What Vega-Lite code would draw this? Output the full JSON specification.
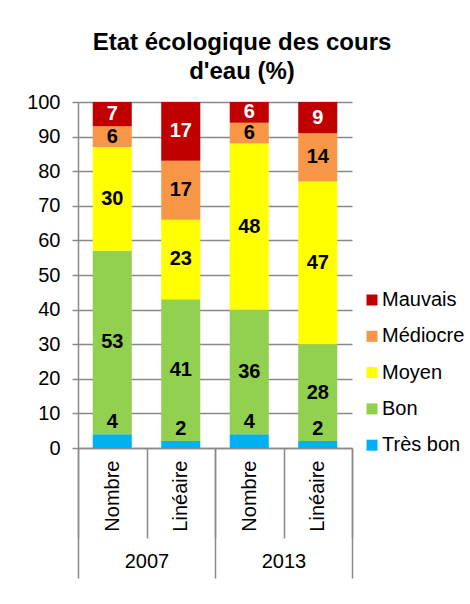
{
  "$schema": "https://vega.github.io/schema/vega-lite/v6.json",
  "width": 274,
  "height": 346,
  "autosize": {"type": "none"},
  "padding": {"left": 78, "top": 102, "right": 118, "bottom": 156},
  "background": "white",
  "config": {"view": {"stroke": null}, "font": "Liberation Sans"},
  "title": {
    "text": ["Etat écologique des cours", "d'eau (%)"],
    "fontSize": 24,
    "fontWeight": "bold",
    "font": "Liberation Sans",
    "color": "black",
    "anchor": "middle",
    "dx": 27,
    "lineHeight": 29,
    "offset": 8
  },
  "data": {
    "values": [
      {"key": "2007 Nombre", "year": "2007", "status": "Très bon", "ord": 1, "value": 4},
      {"key": "2007 Nombre", "year": "2007", "status": "Bon", "ord": 2, "value": 53},
      {"key": "2007 Nombre", "year": "2007", "status": "Moyen", "ord": 3, "value": 30},
      {"key": "2007 Nombre", "year": "2007", "status": "Médiocre", "ord": 4, "value": 6},
      {"key": "2007 Nombre", "year": "2007", "status": "Mauvais", "ord": 5, "value": 7},
      {"key": "2007 Linéaire", "year": "2007", "status": "Très bon", "ord": 1, "value": 2},
      {"key": "2007 Linéaire", "year": "2007", "status": "Bon", "ord": 2, "value": 41},
      {"key": "2007 Linéaire", "year": "2007", "status": "Moyen", "ord": 3, "value": 23},
      {"key": "2007 Linéaire", "year": "2007", "status": "Médiocre", "ord": 4, "value": 17},
      {"key": "2007 Linéaire", "year": "2007", "status": "Mauvais", "ord": 5, "value": 17},
      {"key": "2013 Nombre", "year": "2013", "status": "Très bon", "ord": 1, "value": 4},
      {"key": "2013 Nombre", "year": "2013", "status": "Bon", "ord": 2, "value": 36},
      {"key": "2013 Nombre", "year": "2013", "status": "Moyen", "ord": 3, "value": 48},
      {"key": "2013 Nombre", "year": "2013", "status": "Médiocre", "ord": 4, "value": 6},
      {"key": "2013 Nombre", "year": "2013", "status": "Mauvais", "ord": 5, "value": 6},
      {"key": "2013 Linéaire", "year": "2013", "status": "Très bon", "ord": 1, "value": 2},
      {"key": "2013 Linéaire", "year": "2013", "status": "Bon", "ord": 2, "value": 28},
      {"key": "2013 Linéaire", "year": "2013", "status": "Moyen", "ord": 3, "value": 47},
      {"key": "2013 Linéaire", "year": "2013", "status": "Médiocre", "ord": 4, "value": 14},
      {"key": "2013 Linéaire", "year": "2013", "status": "Mauvais", "ord": 5, "value": 9}
    ]
  },
  "transform": [
    {"stack": "value", "groupby": ["key"], "sort": [{"field": "ord", "order": "ascending"}], "as": ["y0", "y1"]},
    {"calculate": "(datum.y0 + datum.y1) / 2", "as": "ym"}
  ],
  "layer": [
    {
      "encoding": {
        "x": {
          "field": "key",
          "type": "nominal",
          "sort": ["2007 Nombre", "2007 Linéaire", "2013 Nombre", "2013 Linéaire"],
          "scale": {"type": "band", "paddingInner": 0, "paddingOuter": 0},
          "axis": {
            "orient": "bottom",
            "title": null,
            "labelExpr": "split(datum.label, ' ')[1]",
            "labelAngle": -90,
            "labelAlign": "right",
            "labelBaseline": "middle",
            "labelFontSize": 20,
            "labelColor": "black",
            "labelFont": "Liberation Sans",
            "tickBand": "extent",
            "tickSize": 90,
            "tickColor": "#898989",
            "tickWidth": 1.5,
            "domainColor": "#898989",
            "domainWidth": 1.5,
            "labelPadding": -78,
            "grid": false
          }
        }
      },
      "layer": [
        {
          "mark": {"type": "bar", "width": {"band": 0.57}},
          "encoding": {
            "y": {
              "field": "y0",
              "type": "quantitative",
              "scale": {"domain": [0, 100], "nice": false},
              "axis": {
                "title": null,
                "values": [0, 10, 20, 30, 40, 50, 60, 70, 80, 90, 100],
                "labelOverlap": false,
                "labelFontSize": 20,
                "labelColor": "black",
                "labelFont": "Liberation Sans",
                "labelPadding": 12,
                "tickSize": 6,
                "tickColor": "#898989",
                "tickWidth": 1.5,
                "domainColor": "#898989",
                "domainWidth": 1.5,
                "grid": true,
                "gridColor": "#898989",
                "gridWidth": 1.5
              }
            },
            "y2": {"field": "y1"},
            "color": {
              "field": "status",
              "type": "nominal",
              "scale": {
                "domain": ["Mauvais", "Médiocre", "Moyen", "Bon", "Très bon"],
                "range": ["#C00000", "#F79646", "#FFFF00", "#92D050", "#00B0F0"]
              },
              "legend": {
                "title": null,
                "orient": "none",
                "legendX": 284,
                "legendY": 188,
                "padding": 0,
                "symbolType": "square",
                "symbolSize": 121,
                "symbolStrokeWidth": 0,
                "labelFontSize": 20,
                "labelColor": "black",
                "labelFont": "Liberation Sans",
                "labelOffset": 0,
                "rowPadding": 16.3
              }
            }
          }
        },
        {
          "transform": [{"filter": "datum.status !== 'Très bon'"}],
          "mark": {"type": "text", "fontSize": 20, "fontWeight": "bold", "font": "Liberation Sans", "baseline": "middle"},
          "encoding": {
            "y": {
              "field": "ym",
              "type": "quantitative",
              "axis": {
                "title": null,
                "values": [0, 10, 20, 30, 40, 50, 60, 70, 80, 90, 100],
                "labelOverlap": false,
                "labelFontSize": 20,
                "labelColor": "black",
                "labelFont": "Liberation Sans",
                "labelPadding": 12,
                "tickSize": 6,
                "tickColor": "#898989",
                "tickWidth": 1.5,
                "domainColor": "#898989",
                "domainWidth": 1.5,
                "grid": true,
                "gridColor": "#898989",
                "gridWidth": 1.5
              }
            },
            "text": {"field": "value", "type": "quantitative"},
            "color": {"condition": {"test": "datum.status === 'Mauvais'", "value": "white"}, "value": "black"}
          }
        },
        {
          "transform": [{"filter": "datum.status === 'Très bon'"}],
          "mark": {"type": "text", "fontSize": 20, "fontWeight": "bold", "font": "Liberation Sans", "baseline": "bottom", "dy": -2},
          "encoding": {
            "y": {
              "field": "y1",
              "type": "quantitative",
              "axis": {
                "title": null,
                "values": [0, 10, 20, 30, 40, 50, 60, 70, 80, 90, 100],
                "labelOverlap": false,
                "labelFontSize": 20,
                "labelColor": "black",
                "labelFont": "Liberation Sans",
                "labelPadding": 12,
                "tickSize": 6,
                "tickColor": "#898989",
                "tickWidth": 1.5,
                "domainColor": "#898989",
                "domainWidth": 1.5,
                "grid": true,
                "gridColor": "#898989",
                "gridWidth": 1.5
              }
            },
            "text": {"field": "value", "type": "quantitative"},
            "color": {"value": "black"}
          }
        }
      ]
    },
    {
      "mark": {"type": "rule", "opacity": 0},
      "encoding": {
        "x": {
          "field": "year",
          "type": "nominal",
          "scale": {"type": "band", "paddingInner": 0, "paddingOuter": 0},
          "axis": {
            "orient": "bottom",
            "title": null,
            "labelAngle": 0,
            "labelAlign": "center",
            "labelBaseline": "top",
            "labelFontSize": 20,
            "labelColor": "black",
            "labelFont": "Liberation Sans",
            "tickBand": "extent",
            "tickSize": 130,
            "tickColor": "#898989",
            "tickWidth": 1.5,
            "domain": false,
            "labelPadding": -27,
            "grid": false
          }
        }
      }
    }
  ],
  "resolve": {"scale": {"x": "independent"}, "axis": {"x": "independent"}}
}
